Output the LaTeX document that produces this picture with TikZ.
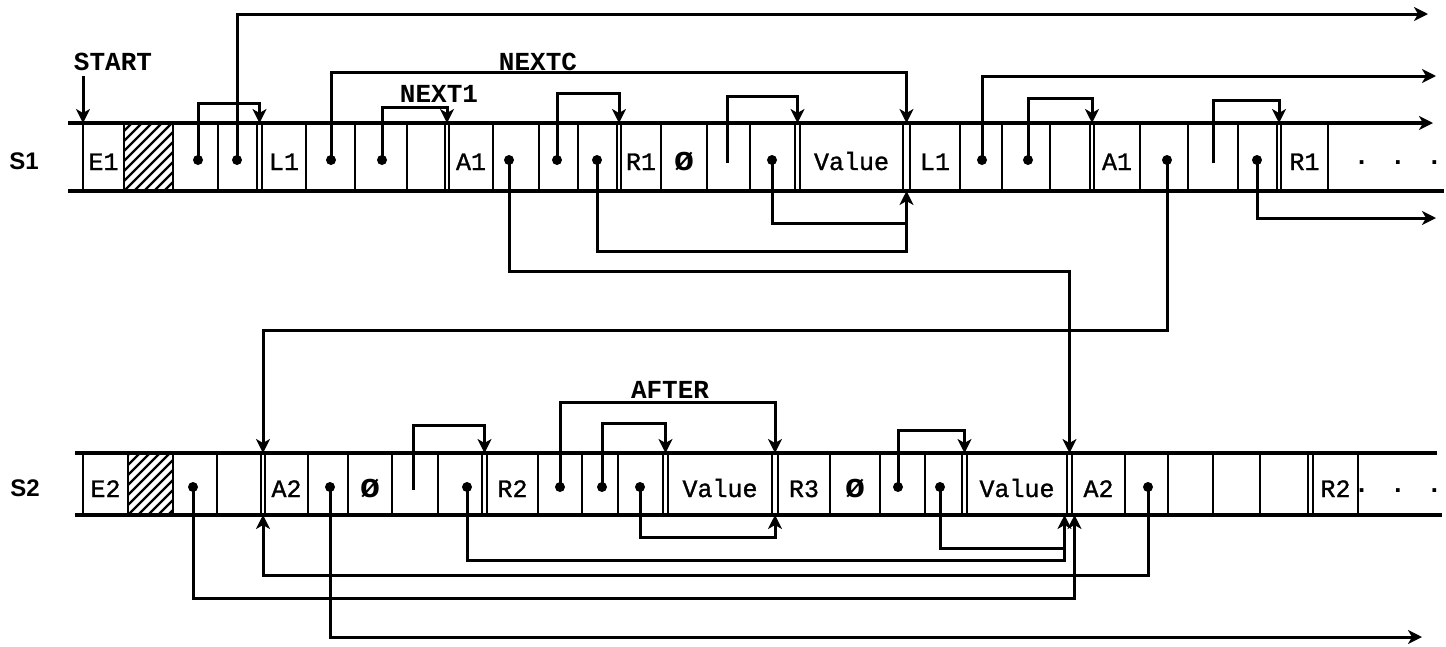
\documentclass[tikz,border=0pt]{standalone}
\usepackage{fontspec}
\newfontfamily\mono[FakeBold=1.2]{Liberation Mono}
\newfontfamily\monob{Liberation Mono Bold}
\newfontfamily\labsans{Liberation Sans}
\usetikzlibrary{arrows.meta,calc}
\newcommand\mkcell[6]{\node[cellbox,minimum width={(#3-#2)*1pt},minimum height=#5pt] (#1) at ({(#2+#3)/2},#4) {#6};}
\newcommand\pdot[3]{\coordinate (#1) at (#2,#3); \fill (#1) circle[radius=5pt];}
\newcommand\nullsym{{\monob\fontsize{34}{34}\selectfont ø}}
\tikzset{
  cellbox/.style={draw,line width=2pt,inner sep=0pt,outer sep=0pt,text height=26pt,text depth=0pt,font=\mono\fontsize{25}{25}\selectfont},
  tip/.tip={Stealth[length=14pt,width=14pt,inset=4pt]},
  ptr/.style={line width=3pt,-tip},
  link/.style={line width=3pt},
  rowline/.style={line width=3.4pt},
  lab/.style={font=\monob\fontsize{26}{26}\selectfont,inner sep=0pt},
  rowlab/.style={font=\labsans\bfseries\fontsize{24}{24}\selectfont,inner sep=0pt},
  hatchline/.style={line width=2.2pt},
}
\begin{document}
\begin{tikzpicture}[x=1pt,y=-1pt]
\useasboundingbox[fill=white] (0,0) rectangle (1446,646);

% ---------------- S1 row ----------------
\mkcell{a1}{83}{124}{157}{68}{E1}
\mkcell{a2}{124}{173}{157}{68}{}
\mkcell{a3}{173}{218}{157}{68}{}
\mkcell{a4}{218}{257}{157}{68}{}
\mkcell{a5}{262}{306}{157}{68}{L1}
\mkcell{a6}{306}{355}{157}{68}{}
\mkcell{a7}{355}{407}{157}{68}{}
\mkcell{a8}{407}{445}{157}{68}{}
\mkcell{a9}{449}{493}{157}{68}{A1}
\mkcell{a10}{493}{539}{157}{68}{}
\mkcell{a11}{539}{578}{157}{68}{}
\mkcell{a12}{578}{617}{157}{68}{}
\mkcell{a13}{621}{661}{157}{68}{R1}
\mkcell{a14}{661}{707}{157}{68}{\nullsym}
\mkcell{a15}{707}{750}{157}{68}{}
\mkcell{a16}{750}{795}{157}{68}{}
\mkcell{a17}{800}{903}{157}{68}{Value}
\mkcell{a18}{910}{960}{157}{68}{L1}
\mkcell{a19}{960}{1002}{157}{68}{}
\mkcell{a20}{1002}{1050}{157}{68}{}
\mkcell{a21}{1050}{1090}{157}{68}{}
\mkcell{a22}{1094}{1140}{157}{68}{A1}
\mkcell{a23}{1140}{1188}{157}{68}{}
\mkcell{a24}{1188}{1238}{157}{68}{}
\mkcell{a25}{1238}{1277}{157}{68}{}
\mkcell{a26}{1281}{1328}{157}{68}{R1}
\node[lab] (a27) at (1398,163) {. . .};

% hatch S1
\begin{scope}
\clip (a2.south west) rectangle (a2.north east);
\foreach \i in {-80,-70,...,60} \draw[hatchline] ([xshift=\i pt]a2.south west) -- ++(80,-80);
\end{scope}

% row lines S1
\coordinate (s1tl) at (68,123);
\coordinate (s1tr) at (1433,123);
\coordinate (s1bl) at (68,191);
\coordinate (s1br) at (1444,191);
\draw[rowline,-tip] (s1tl) -- (s1tr);
\draw[rowline] (s1bl) -- (s1br);

% ---------------- S2 row ----------------
\mkcell{b1}{83}{128}{484}{62}{E2}
\mkcell{b2}{128}{173}{484}{62}{}
\mkcell{b3}{173}{217}{484}{62}{}
\mkcell{b4}{217}{261}{484}{62}{}
\mkcell{b5}{265}{308}{484}{62}{A2}
\mkcell{b6}{308}{348}{484}{62}{}
\mkcell{b7}{348}{392}{484}{62}{\nullsym}
\mkcell{b8}{392}{438}{484}{62}{}
\mkcell{b9}{438}{482}{484}{62}{}
\mkcell{b10}{487}{538}{484}{62}{R2}
\mkcell{b11}{538}{582}{484}{62}{}
\mkcell{b12}{582}{618}{484}{62}{}
\mkcell{b13}{618}{663}{484}{62}{}
\mkcell{b14}{668}{772}{484}{62}{Value}
\mkcell{b15}{778}{830}{484}{62}{R3}
\mkcell{b16}{830}{880}{484}{62}{\nullsym}
\mkcell{b17}{880}{925}{484}{62}{}
\mkcell{b18}{925}{962}{484}{62}{}
\mkcell{b19}{967}{1067}{484}{62}{Value}
\mkcell{b20}{1072}{1125}{484}{62}{A2}
\mkcell{b21}{1125}{1168}{484}{62}{}
\mkcell{b22}{1168}{1213}{484}{62}{}
\mkcell{b23}{1213}{1260}{484}{62}{}
\mkcell{b24}{1260}{1308}{484}{62}{}
\mkcell{b25}{1313}{1358}{484}{62}{R2}
\node[lab] (b26) at (1398,491) {. . .};

\begin{scope}
\clip (b2.south west) rectangle (b2.north east);
\foreach \i in {-80,-70,...,60} \draw[hatchline] ([xshift=\i pt]b2.south west) -- ++(80,-80);
\end{scope}

\coordinate (s2tl) at (75,453);
\coordinate (s2tr) at (1437,453);
\coordinate (s2bl) at (75,515);
\coordinate (s2br) at (1442,515);
\draw[rowline] (s2tl) -- (s2tr);
\draw[rowline] (s2bl) -- (s2br);

% ---------------- labels ----------------
\node[rowlab] (lS1) at (24,161) {S1};
\node[rowlab] (lS2) at (25,488) {S2};
\node[lab] (lstart) at (113,62) {START};
\node[lab] (lnextc) at (538,62) {NEXTC};
\node[lab] (lnext1) at (439,94) {NEXT1};
\node[lab] (lafter) at (670,390) {AFTER};

% ---------------- gap coordinates ----------------
\coordinate (g45t) at ($(a4.north east)!.5!(a5.north west)$);
\coordinate (g89t) at ($(a8.north east)!.5!(a9.north west)$);
\coordinate (g1213t) at ($(a12.north east)!.5!(a13.north west)$);
\coordinate (g1617t) at ($(a16.north east)!.5!(a17.north west)$);
\coordinate (g1718t) at ($(a17.north east)!.5!(a18.north west)$);
\coordinate (g2122t) at ($(a21.north east)!.5!(a22.north west)$);
\coordinate (g2526t) at ($(a25.north east)!.5!(a26.north west)$);
\coordinate (g1718b) at ($(a17.south east)!.5!(a18.south west)$);
\coordinate (j1) at ($(g1718b)+(0,32)$);

\coordinate (h45t) at ($(b4.north east)!.5!(b5.north west)$);
\coordinate (h45b) at ($(b4.south east)!.5!(b5.south west)$);
\coordinate (h910t) at ($(b9.north east)!.5!(b10.north west)$);
\coordinate (h1314t) at ($(b13.north east)!.5!(b14.north west)$);
\coordinate (h1415t) at ($(b14.north east)!.5!(b15.north west)$);
\coordinate (h1415b) at ($(b14.south east)!.5!(b15.south west)$);
\coordinate (h1819t) at ($(b18.north east)!.5!(b19.north west)$);
\coordinate (h1920t) at ($(b19.north east)!.5!(b20.north west)$);
\coordinate (h1920bl) at ($(b19.south east)!.5!(b20.south west)+(-5,0)$);
\coordinate (h1920br) at ($(b19.south east)!.5!(b20.south west)+(5,0)$);
\coordinate (j2) at ($(h1920bl)+(0,33)$);

% free ends
\coordinate (startc) at (83,76);
\coordinate (outA) at (1428,14);
\coordinate (outB) at (1436,76);
\coordinate (outC) at (1436,218);
\coordinate (outD) at (1422,637);

% ---------------- pointer origins ----------------
\pdot{p198}{198}{160}
\pdot{p237}{237}{160}
\pdot{p331}{331}{160}
\pdot{p382}{382}{160}
\pdot{p509}{509}{160}
\pdot{p557}{557}{160}
\pdot{p597}{597}{160}
\coordinate (p727) at (727,163);
\pdot{p772}{772}{160}
\pdot{p982}{982}{160}
\pdot{p1028}{1028}{160}
\pdot{p1167}{1167}{160}
\coordinate (p1213) at (1213,163);
\pdot{p1257}{1257}{160}

\pdot{q193}{193}{487}
\pdot{q330}{330}{487}
\coordinate (q413) at (413,490);
\pdot{q467}{467}{487}
\pdot{q560}{560}{487}
\pdot{q602}{602}{487}
\pdot{q640}{640}{487}
\pdot{q898}{898}{487}
\pdot{q940}{940}{487}
\pdot{q1148}{1148}{487}

% ---------------- connectors S1 ----------------
\draw[ptr] (startc) -- (a1.north west);
\draw[ptr] (p198) -- ++(0,-57) -| (g45t);
\draw[ptr] (p237) |- (outA);
\draw[ptr] (p331) -- ++(0,-88) -| (g1718t);
\draw[ptr] (p382) -- ++(0,-53) -| (g89t);
\draw[ptr] (p557) -- ++(0,-67) -| (g1213t);
\draw[ptr] (p727) -- ++(0,-67) -| (g1617t);
\draw[ptr] (p982) |- (outB);
\draw[ptr] (p1028) -- ++(0,-62) -| (g2122t);
\draw[ptr] (p1213) -- ++(0,-63) -| (g2526t);
\draw[ptr] (p1257) |- (outC);
\draw[ptr] (p772) -- ++(0,63) -| (g1718b);
\draw[link] (p597) -- ++(0,91) -| (j1);
\draw[ptr] (p509) -- ++(0,111) -| (h1920t);
\draw[ptr] (p1167) -- ++(0,170) -| (h45t);

% ---------------- connectors S2 ----------------
\draw[ptr] (q413) -- ++(0,-65) -| (h910t);
\draw[ptr] (q560) -- ++(0,-85) -| (h1415t);
\draw[ptr] (q602) -- ++(0,-64) -| (h1314t);
\draw[ptr] (q898) -- ++(0,-57) -| (h1819t);
\draw[ptr] (q640) -- ++(0,50) -| (h1415b);
\draw[ptr] (q940) -- ++(0,61) -| (h1920bl);
\draw[link] (q467) -- ++(0,73) -| (j2);
\draw[ptr] (q1148) -- ++(0,88) -| (h45b);
\draw[ptr] (q193) -- ++(0,111) -| (h1920br);
\draw[ptr] (q330) |- (outD);
\end{tikzpicture}
\end{document}
